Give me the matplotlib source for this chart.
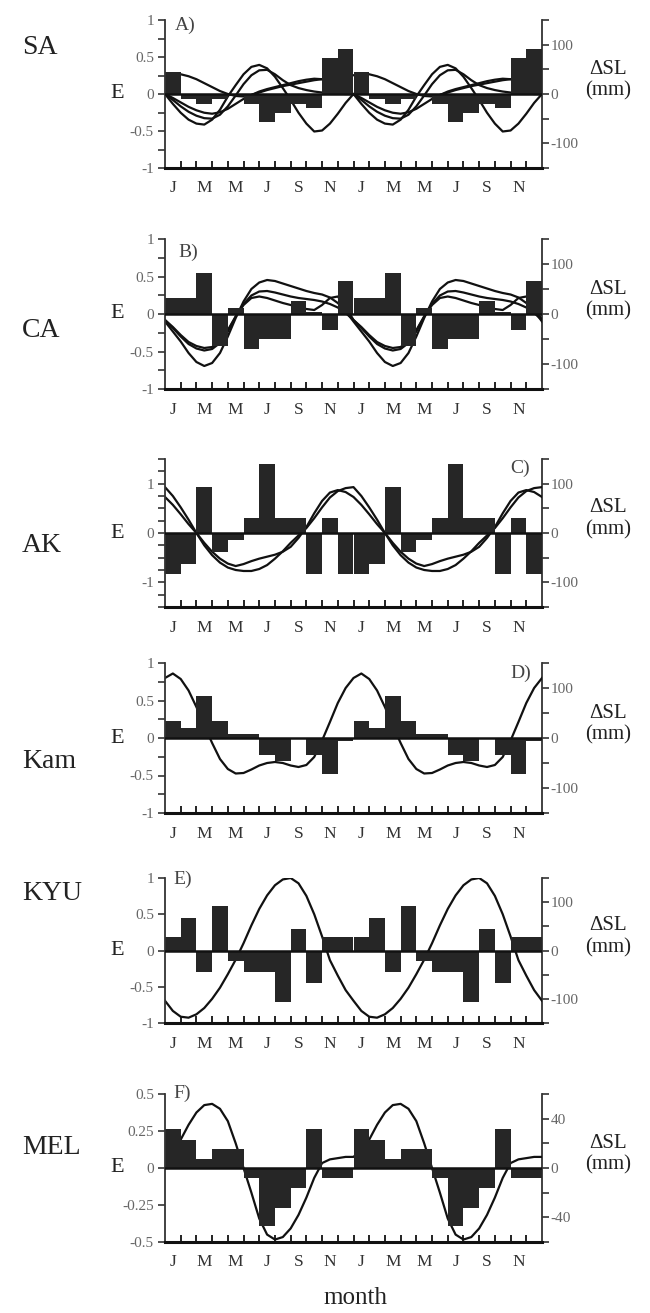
import numpy as np
import matplotlib
matplotlib.use("Agg")
import matplotlib.pyplot as plt

plt.rcParams['font.family'] = ['Liberation Serif', 'DejaVu Serif']

# ---------------- data (one year; the figure repeats it twice) ----------------
month_labels = ['J', 'M', 'M', 'J', 'S', 'N'] * 2

# monthly E values (Jan..Dec)
E_SA  = [0.30, -0.07, -0.14, -0.07, -0.03, -0.13, -0.38, -0.26, -0.13, -0.19, 0.49, 0.61]
E_CA  = [0.21, 0.21, 0.55, -0.43, 0.08, -0.46, -0.33, -0.33, 0.18, 0.03, -0.21, 0.44]
E_AK  = [-0.83, -0.62, 0.94, -0.38, -0.15, 0.30, 1.39, 0.30, 0.30, -0.83, 0.30, -0.83]
E_Kam = [0.23, 0.14, 0.56, 0.23, 0.06, 0.06, -0.23, -0.31, 0.0, -0.23, -0.48, -0.04]
E_KYU = [0.19, 0.45, -0.30, 0.62, -0.14, -0.30, -0.30, -0.71, 0.29, -0.45, 0.19, 0.19]
E_MEL = [0.265, 0.19, 0.063, 0.13, 0.13, -0.067, -0.39, -0.27, -0.135, 0.265, -0.067, -0.067]

# sea-level curves (mm), read every half month from Jan 1 to Dec 31
SL_months = [0, 0.5, 1, 1.5, 2, 2.5, 3, 3.5, 4, 4.5, 5, 5.5, 6, 6.5, 7, 7.5, 8, 8.5,
             9, 9.5, 10, 10.5, 11, 11.5, 12]
SL_SA_1 = [0, -20, -38, -52, -60, -62, -52, -32, -5, 18, 40, 55, 59, 52, 35, 12, -12, -38,
           -60, -76, -74, -60, -40, -18, 0]
SL_SA_2 = [0, -12, -25, -36, -44, -49, -50, -42, -25, -3, 20, 38, 48, 49, 40, 28, 18, 12,
           8, 5, 3, 2, 1, 0, 0]
SL_SA_3 = [38, 40, 40, 36, 30, 22, 14, 6, 0, -4, -5, -2, 3, 8, 12, 16, 19, 22,
           25, 28, 30, 33, 35, 37, 38]
SL_SA_4 = [0, -8, -17, -26, -33, -38, -40, -37, -30, -20, -10, -2, 5, 10, 14, 18, 22, 26,
           29, 31, 30, 24, 15, 7, 0]
SL_CA_1 = [-15, -35, -55, -78, -96, -104, -98, -78, -45, -8, 25, 50, 63, 68, 66, 61, 56, 51,
           46, 42, 39, 33, 22, 6, -15]
SL_CA_2 = [-12, -28, -45, -60, -69, -73, -70, -58, -35, -5, 20, 37, 45, 46, 43, 39, 35, 32,
           30, 28, 25, 20, 13, 2, -12]
SL_CA_3 = [-12, -26, -42, -56, -64, -68, -66, -55, -32, -5, 18, 32, 35, 32, 27, 22, 18, 14,
           10, 8, 18, 32, 35, 15, -12]
SL_AK_1 = [93, 75, 52, 27, 0, -25, -45, -60, -70, -75, -77, -77, -73, -65, -52, -37, -20, -5,
           10, 30, 52, 72, 85, 91, 93]
SL_AK_2 = [73, 57, 38, 18, 0, -20, -38, -52, -62, -67, -63, -57, -52, -48, -44, -38, -28, -10,
           12, 40, 65, 82, 87, 83, 73]
SL_Kam = [120, 129, 118, 95, 62, 25, -10, -42, -62, -71, -70, -63, -55, -50, -48, -50, -55, -58,
          -54, -38, -5, 32, 70, 100, 120]
SL_KYU = [-104, -125, -137, -139, -132, -119, -100, -77, -49, -19, 15, 52, 86, 114, 135, 147, 150, 139,
          113, 75, 29, -20, -52, -82, -104]
SL_MEL = [9, 15, 23, 35, 45, 51, 52, 48, 38, 20, 0, -20, -41, -54, -58, -56, -49, -38,
          -24, -8, 4, 7, 8, 9, 9]

station_names = ['SA', 'CA', 'AK', 'Kam', 'KYU', 'MEL']
panel_letters = ['A)', 'B)', 'C)', 'D)', 'E)', 'F)']


def two_years(v):
    v = np.asarray(v, dtype=float)
    return np.concatenate([v[:-1], v[:-1], v[-1:]])


W, H = 650, 1313
fig = plt.figure(figsize=(W / 100, H / 100), dpi=100)
fig.patch.set_facecolor('white')

panels = [
    dict(E=E_SA, SL=[SL_SA_1, SL_SA_2, SL_SA_3, SL_SA_4], top=20, bot=168,
         ylim=(-1, 1), yt=np.arange(-1, 1.01, 0.25), ylab={-1: '-1', -0.5: '-0.5', 0: '0', 0.5: '0.5', 1: '1'},
         rlim=(-150, 150), rt=np.arange(-150, 151, 50), rlab={-100: '-100', 0: '0', 100: '100'},
         name_y=48, let_xy=(175, 25), let_ha='left'),
    dict(E=E_CA, SL=[SL_CA_1, SL_CA_2, SL_CA_3], top=239, bot=389,
         ylim=(-1, 1), yt=np.arange(-1, 1.01, 0.25), ylab={-1: '-1', -0.5: '-0.5', 0: '0', 0.5: '0.5', 1: '1'},
         rlim=(-150, 150), rt=np.arange(-150, 151, 50), rlab={-100: '-100', 0: '0', 100: '100'},
         name_y=330, let_xy=(178, 252), let_ha='left'),
    dict(E=E_AK, SL=[SL_AK_1, SL_AK_2], top=459, bot=607,
         ylim=(-1.5, 1.5), yt=np.arange(-1.5, 1.51, 0.25), ylab={-1: '-1', 0: '0', 1: '1'},
         rlim=(-150, 150), rt=np.arange(-150, 151, 50), rlab={-100: '-100', 0: '0', 100: '100'},
         name_y=545, let_xy=(530, 468), let_ha='right'),
    dict(E=E_Kam, SL=[SL_Kam], top=663, bot=813,
         ylim=(-1, 1), yt=np.arange(-1, 1.01, 0.25), ylab={-1: '-1', -0.5: '-0.5', 0: '0', 0.5: '0.5', 1: '1'},
         rlim=(-150, 150), rt=np.arange(-150, 151, 50), rlab={-100: '-100', 0: '0', 100: '100'},
         name_y=762, let_xy=(531, 673), let_ha='right'),
    dict(E=E_KYU, SL=[SL_KYU], top=878, bot=1023,
         ylim=(-1, 1), yt=np.arange(-1, 1.01, 0.5), ylab={-1: '-1', -0.5: '-0.5', 0: '0', 0.5: '0.5', 1: '1'},
         rlim=(-150, 150), rt=np.arange(-150, 151, 50), rlab={-100: '-100', 0: '0', 100: '100'},
         name_y=893, let_xy=(173, 879), let_ha='left'),
    dict(E=E_MEL, SL=[SL_MEL], top=1094, bot=1242,
         ylim=(-0.5, 0.5), yt=np.arange(-0.5, 0.51, 0.25), ylab={-0.5: '-0.5', -0.25: '-0.25', 0: '0', 0.25: '0.25', 0.5: '0.5'},
         rlim=(-60, 60), rt=np.arange(-60, 61, 20), rlab={-40: '-40', 0: '0', 40: '40'},
         name_y=1148, let_xy=(173, 1093), let_ha='left'),
]

x_left, x_right = 165, 542
tick_gray = '#666666'
text_dark = '#222222'

for i, p in enumerate(panels):
    rect = [x_left / W, 1 - p['bot'] / H, (x_right - x_left) / W, (p['bot'] - p['top']) / H]
    ax = fig.add_axes(rect)
    ax2 = ax.twinx()
    # curves underneath, bars on top (as in the original)
    ax.set_zorder(2)
    ax2.set_zorder(1)
    ax.patch.set_visible(False)
    ax2.patch.set_visible(False)

    months = np.arange(24)
    ax.bar(months, np.tile(p['E'], 2), width=1.0, align='edge', color='#262626',
           linewidth=0, zorder=2)
    ax.axhline(0, color='#111111', lw=1.8, zorder=3)

    xc = np.concatenate([np.array(SL_months[:-1]), np.array(SL_months[:-1]) + 12, [24]])
    for curve in p['SL']:
        ax2.plot(xc, two_years(curve), color='#111111', lw=1.6, zorder=4)

    ax.set_xlim(0, 24)
    ax.set_ylim(*p['ylim'])
    ax2.set_ylim(*p['rlim'])

    # spines
    for s in ['top', 'right']:
        ax.spines[s].set_visible(False)
    for s in ['top', 'left', 'bottom']:
        ax2.spines[s].set_visible(False)
    ax.spines['left'].set_linewidth(1.3)
    ax.spines['left'].set_color('#333333')
    ax.spines['bottom'].set_linewidth(2.2)
    ax.spines['bottom'].set_color('#111111')
    ax2.spines['right'].set_linewidth(1.3)
    ax2.spines['right'].set_color('#333333')

    # x ticks: labels at every other month centre, tick marks at month boundaries
    ax.set_xticks(np.arange(0.5, 24, 2))
    ax.set_xticklabels(month_labels)
    ax.set_xticks(np.arange(1, 24), minor=True)
    ax.tick_params(axis='x', which='major', length=0, pad=9, labelsize=12.5, labelcolor='#333333')
    ax.tick_params(axis='x', which='minor', direction='in', length=5, width=1.3, color='#111111')

    # left y ticks
    ax.set_yticks(p['yt'])
    ax.set_yticklabels([p['ylab'].get(round(float(t), 3), '') for t in p['yt']])
    ax.tick_params(axis='y', direction='out', length=5, width=1.2, color='#333333',
                   labelcolor=tick_gray, labelsize=11, pad=3)

    # right y ticks
    ax2.set_yticks(p['rt'])
    ax2.set_yticklabels([p['rlab'].get(int(t), '') for t in p['rt']])
    ax2.tick_params(axis='y', direction='out', length=5, width=1.2, color='#333333',
                    labelcolor=tick_gray, labelsize=11, pad=1)

    # texts
    zero_y = p['top'] + (p['bot'] - p['top']) * (p['ylim'][1] / (p['ylim'][1] - p['ylim'][0]))
    fig.text(117 / W, 1 - zero_y / H, 'E', ha='center', va='center', fontsize=16, color=text_dark)
    fig.text(608 / W, 1 - (zero_y - 25) / H, 'ΔSL', ha='center', va='center', fontsize=15, color=text_dark)
    fig.text(608 / W, 1 - (zero_y - 3) / H, '(mm)', ha='center', va='center', fontsize=15, color=text_dark)
    fig.text(22 / W, 1 - p['name_y'] / H, station_names[i], ha='left', va='center', fontsize=20, color=text_dark)
    lx, ly = p['let_xy']
    fig.text(lx / W, 1 - ly / H, panel_letters[i], ha=p['let_ha'], va='center', fontsize=14, color='#444444')

fig.text(355 / W, 1 - 1298 / H, 'month', ha='center', va='center', fontsize=18, color=text_dark)

fig.savefig('out.png', dpi=100, facecolor='white')
